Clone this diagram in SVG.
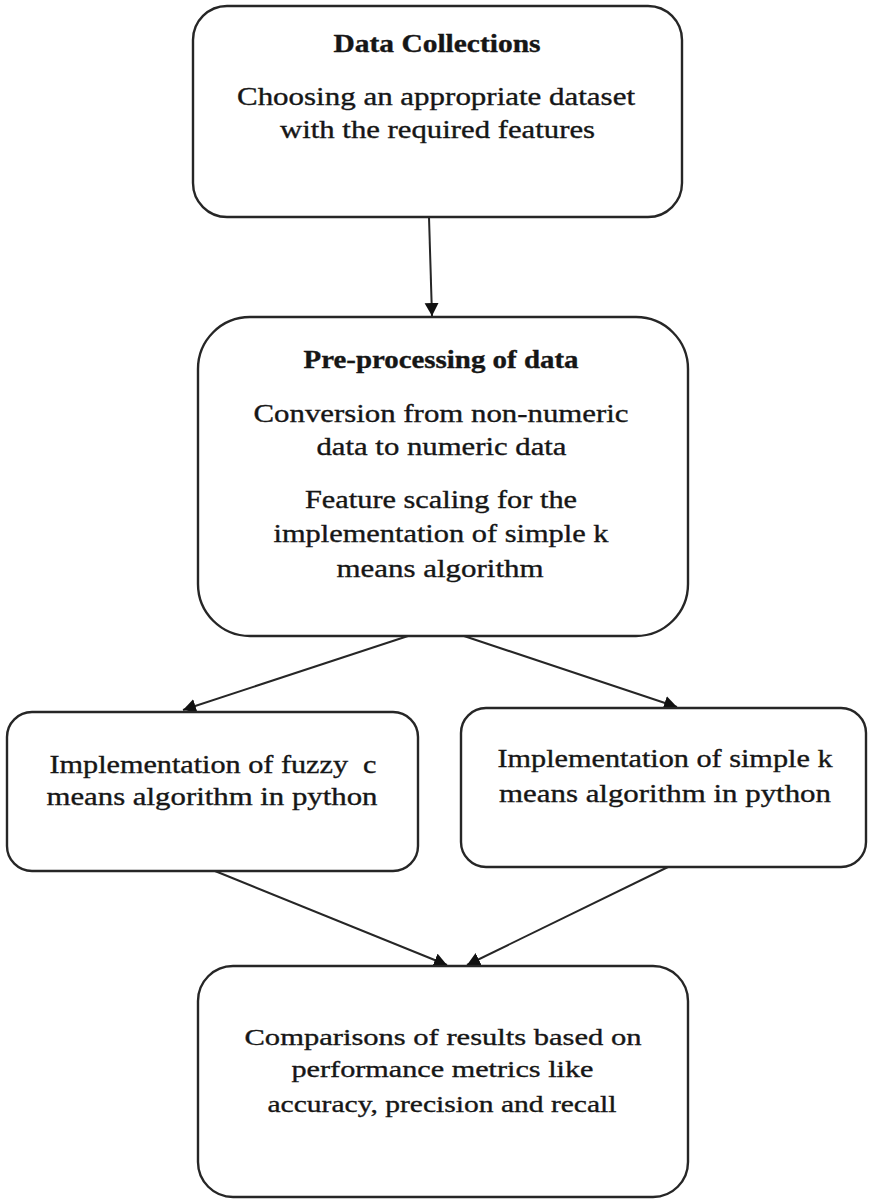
<svg xmlns="http://www.w3.org/2000/svg" width="869" height="1199" viewBox="0 0 869 1199">
  <style>
    .box { fill: #ffffff; stroke: #262626; stroke-width: 2.4; }
    .edge { fill: none; stroke: #262626; stroke-width: 2; }
    text { font-family: "Liberation Serif", "Times New Roman", serif; fill: #161616; stroke: #161616; stroke-width: 0.35; text-anchor: middle; }
    .hd { font-size: 25px; font-weight: bold; }
    .tx { font-size: 25px; }
    .sm { font-size: 24px; }
  </style>
  <defs>
    <marker id="arrow" markerUnits="userSpaceOnUse" markerWidth="16" markerHeight="16" refX="13" refY="7" orient="auto">
      <path d="M0,0 L13,7 L0,14 Z" fill="#111111"/>
    </marker>
  </defs>

  <rect width="869" height="1199" fill="#ffffff"/>

  <!-- connectors -->
  <g id="connectors">
    <line class="edge" x1="429" y1="217" x2="432" y2="316" marker-end="url(#arrow)"/>
    <line class="edge" x1="408" y1="636" x2="183" y2="710" marker-end="url(#arrow)"/>
    <line class="edge" x1="464" y1="636" x2="677" y2="707" marker-end="url(#arrow)"/>
    <line class="edge" x1="215" y1="871" x2="447" y2="965" marker-end="url(#arrow)"/>
    <line class="edge" x1="668" y1="867" x2="467" y2="965" marker-end="url(#arrow)"/>
  </g>

  <!-- step 1: data collection -->
  <g id="data-collection">
    <rect class="box" x="193" y="6" width="489" height="211" rx="34" ry="34"/>
    <text class="hd" x="437" y="52" textLength="207" lengthAdjust="spacingAndGlyphs">Data Collections</text>
    <text class="tx" x="436" y="105" textLength="398" lengthAdjust="spacingAndGlyphs">Choosing an appropriate dataset</text>
    <text class="tx" x="437.5" y="138" textLength="315" lengthAdjust="spacingAndGlyphs">with the required features</text>
  </g>

  <!-- step 2: pre-processing -->
  <g id="pre-processing">
    <rect class="box" x="198" y="317" width="490" height="319" rx="52" ry="52"/>
    <text class="hd" x="441" y="368" textLength="275" lengthAdjust="spacingAndGlyphs">Pre-processing of data</text>
    <text class="tx" x="441" y="422" textLength="375" lengthAdjust="spacingAndGlyphs">Conversion from non-numeric</text>
    <text class="tx" x="441.5" y="455" textLength="250" lengthAdjust="spacingAndGlyphs">data to numeric data</text>
    <text class="tx" x="441" y="508" textLength="272" lengthAdjust="spacingAndGlyphs">Feature scaling for the</text>
    <text class="tx" x="441" y="542" textLength="335" lengthAdjust="spacingAndGlyphs">implementation of simple k</text>
    <text class="tx" x="440" y="577" textLength="207" lengthAdjust="spacingAndGlyphs">means algorithm</text>
  </g>

  <!-- step 3a: fuzzy c-means -->
  <g id="fuzzy-c-means">
    <rect class="box" x="7" y="712" width="411" height="159" rx="25" ry="25"/>
    <text class="tx" x="213" y="773" textLength="327" lengthAdjust="spacingAndGlyphs" xml:space="preserve">Implementation of fuzzy  c</text>
    <text class="tx" x="212" y="805" textLength="331" lengthAdjust="spacingAndGlyphs">means algorithm in python</text>
  </g>

  <!-- step 3b: simple k-means -->
  <g id="simple-k-means">
    <rect class="box" x="461" y="708" width="405" height="159" rx="25" ry="25"/>
    <text class="tx" x="665" y="767" textLength="335" lengthAdjust="spacingAndGlyphs">Implementation of simple k</text>
    <text class="tx" x="665" y="802" textLength="332" lengthAdjust="spacingAndGlyphs">means algorithm in python</text>
  </g>

  <!-- step 4: comparison -->
  <g id="comparison">
    <rect class="box" x="198" y="966" width="490" height="231" rx="35" ry="35"/>
    <text class="sm" x="443" y="1045" textLength="397" lengthAdjust="spacingAndGlyphs">Comparisons of results based on</text>
    <text class="sm" x="442.5" y="1077" textLength="302" lengthAdjust="spacingAndGlyphs">performance metrics like</text>
    <text class="sm" x="442" y="1112" textLength="349" lengthAdjust="spacingAndGlyphs">accuracy, precision and recall</text>
  </g>
</svg>
